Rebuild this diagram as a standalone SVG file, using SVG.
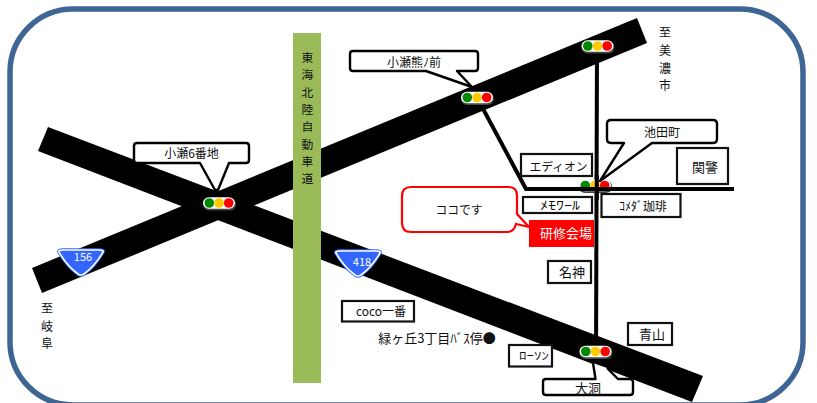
<svg xmlns="http://www.w3.org/2000/svg" width="817" height="403" viewBox="0 0 817 403">
<defs><style>
text{font-family:"Noto Sans CJK JP","Noto Sans",sans-serif;fill:#111;text-anchor:middle}
.road{fill:#000}
.line{fill:none;stroke:#000;stroke-width:4}
.box{fill:#fff;stroke:#111;stroke-width:2.200}
.call{fill:#fff;stroke:#000;stroke-width:2.400;stroke-linejoin:round}
.sh{fill:#444}
.lens{fill:#fff}
.exp{font-size:11.800px}
.dest{font-size:12px}
</style>
<g id="sig"><rect x="-16" y="-5.500" width="33" height="12.500" rx="6" class="sh"/><rect x="-16" y="-6.300" width="32" height="11.600" rx="5.800" class="lens"/><circle cx="-9.700" cy="-.5" r="4.800" fill="#080"/><circle cx="0" cy="-.5" r="4.800" fill="#fc0"/><circle cx="9.700" cy="-.5" r="4.800" fill="#f00"/></g>
<path id="shield" d="M-22,1 Q-23,-1 -18,-1 H18 Q23,-1 22,1 Q14,15 3,23 Q0,25 -3,23 Q-14,15 -22,1Z"/>
</defs>
<rect id="frame" x="10" y="9" width="793" height="396" rx="63" fill="#fff" stroke="#3f6594" stroke-width="5.500"/>
<g id="connectors">
<polygon class="road" points="32,268 42,293 647,43 637,18"/>
<polygon class="road" points="48,127 38,151 692,402 703,376"/>
<path class="line" d="M481,105 L526,189 H734"/>
<path class="line" d="M597,46 L596,365"/>
</g>
<g id="expressway"><rect x="293" y="33" width="28" height="350" fill="#9bbb59"/>
<text class="exp" x="307.500" y="62">東</text><text class="exp" x="307.500" y="79.300">海</text><text class="exp" x="307.500" y="96.600">北</text><text class="exp" x="307.500" y="113.900">陸</text><text class="exp" x="307.500" y="131.200">自</text><text class="exp" x="307.500" y="148.500">動</text><text class="exp" x="307.500" y="165.800">車</text><text class="exp" x="307.500" y="183">道</text></g>
<use href="#sig" x="597.500" y="46.500"/>
<use href="#sig" x="477" y="98"/>
<use href="#sig" x="219" y="203.500"/>
<use href="#sig" x="595.500" y="352"/>
<g id="sig-ikeda"><use href="#sig" x="595" y="186"/><path class="line" d="M526,189 H734"/><path class="line" d="M596.800,175 V200"/></g>
<g id="r156"><use href="#shield" x="81" y="251" fill="#36f" stroke="#36f" stroke-width="3.400"/><use href="#shield" x="81" y="251" fill="#36f" stroke="#fff" stroke-width="1.600"/><text x="83" y="261" font-size="11" style="fill:#fff">156</text></g>
<g id="r418"><use href="#shield" x="358" y="252" fill="#36f" stroke="#36f" stroke-width="3.400"/><use href="#shield" x="358" y="252" fill="#36f" stroke="#fff" stroke-width="1.600"/><text x="362" y="266" font-size="11" style="fill:#fff">418</text></g>
<g id="n-kose6"><path class="call" d="M137,143 H246 Q249,143 249,146 V160 Q249,163 246,163 H229 L218,190 L215,190 L200,163 H137 Q134,163 134,160 V146 Q134,143 137,143Z"/><text x="191.500" y="158" font-size="12">小瀬6番地</text></g>
<g id="n-kuma"><path class="call" d="M353,51 H475 Q478,51 478,54 V68 Q478,71 475,71 H457 L472,87 L426,71 H353 Q350,71 350,68 V54 Q350,51 353,51Z"/><text x="414" y="67" font-size="12">小瀬熊ﾉ前</text></g>
<g id="n-ikeda"><path class="call" d="M611,120 H713 Q717,120 717,124 V139 Q717,143 713,143 H652 L600,181 L624,143 H611 Q607,143 607,139 V124 Q607,120 611,120Z"/><text x="662" y="137" font-size="12">池田町</text></g>
<g id="n-eddy"><rect class="box" x="521" y="154" width="71" height="22"/><text x="558.500" y="171" font-size="11.800">エディオン</text></g>
<g id="n-kan"><rect class="box" x="677" y="148" width="51" height="36"/><text x="705" y="172" font-size="13">関警</text></g>
<g id="n-memo"><rect class="box" x="523" y="197" width="69" height="16"/><text x="560" y="209.500" font-size="12" textLength="40" lengthAdjust="spacingAndGlyphs">ﾒﾓﾜｰﾙ</text></g>
<g id="n-komeda"><rect class="box" x="601.500" y="194" width="79" height="23"/><text x="643" y="211" font-size="12">ｺﾒﾀﾞ珈琲</text></g>
<g id="n-here"><path d="M411,187 H509 Q517,187 517,196 V214 L529,227 L516,224 Q514,232 507,232 H411 Q402,232 402,223 V196 Q402,187 411,187Z" fill="#fff" stroke="#f00" stroke-width="2.200"/><text x="459" y="214" font-size="11.800">ココです</text></g>
<g id="n-venue"><rect x="529" y="220" width="65" height="27" fill="#f00"/><text x="566" y="238" font-size="13" style="fill:#fff">研修会場</text></g>
<g id="n-meishin"><rect class="box" x="548" y="261" width="43" height="22"/><text x="572" y="277" font-size="13">名神</text></g>
<g id="n-aoyama"><rect class="box" x="628" y="323" width="44" height="22"/><text x="652" y="339" font-size="13">青山</text></g>
<g id="n-coco"><rect class="box" x="342" y="301" width="72" height="20.500"/><text x="381" y="316" font-size="12">coco一番</text></g>
<g id="n-lawson"><rect class="box" x="509" y="345" width="43" height="21.500"/><text x="534" y="360" font-size="11" textLength="30" lengthAdjust="spacingAndGlyphs">ﾛｰｿﾝ</text></g>
<g id="n-daido"><path class="call" d="M593,363 L595.500,379 H546 Q543,379 543,382 V392 Q543,395 546,395 H630 Q633,395 633,392 V382 Q633,379 630,379 H618 L607,368"/><text x="588" y="392.500" font-size="13">大洞</text></g>
<g id="labels"><text x="437" y="343" font-size="13">緑ヶ丘3丁目ﾊﾞｽ停●</text>
<text class="dest" x="665" y="37">至</text><text class="dest" x="665" y="55">美</text><text class="dest" x="665" y="73">濃</text><text class="dest" x="665" y="90">市</text>
<text class="dest" x="47" y="313">至</text><text class="dest" x="47" y="331">岐</text><text class="dest" x="47" y="348">阜</text></g>
</svg>
